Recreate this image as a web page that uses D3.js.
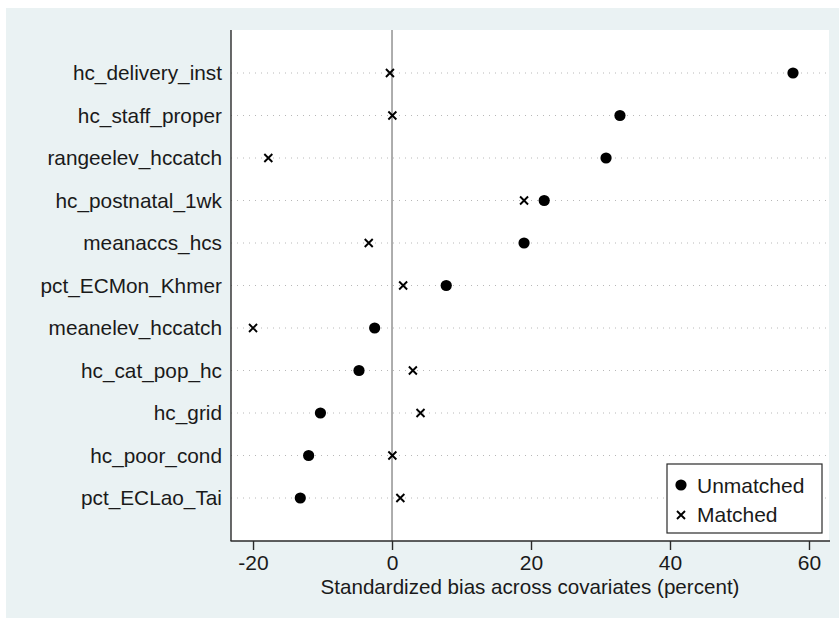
<!DOCTYPE html>
<html>
<head>
<meta charset="utf-8">
<script src="https://cdn.jsdelivr.net/npm/d3@7"></script>
<style>
  html, body { margin: 0; padding: 0; background: #ffffff; }
  svg { display: block; font-family: Arial, "Liberation Sans", sans-serif; }
</style>
</head>
<body>
<svg id="chart" width="839" height="618"></svg>
<script>
// Covariates, top to bottom (sorted by bias before matching)
const covariates = [
  "hc_delivery_inst", "hc_staff_proper", "rangeelev_hccatch", "hc_postnatal_1wk",
  "meanaccs_hcs", "pct_ECMon_Khmer", "meanelev_hccatch", "hc_cat_pop_hc",
  "hc_grid", "hc_poor_cond", "pct_ECLao_Tai"
];
// Standardized bias (%) before matching
const unmatched = [57.7, 32.8, 30.8, 21.9, 19.0, 7.8, -2.5, -4.75, -10.3, -12.0, -13.2];
// Standardized bias (%) after matching
const matched = [-0.3, 0.05, -17.8, 19.0, -3.35, 1.6, -20.0, 3.0, 4.1, 0.05, 1.2];
const xTicks = [-20, 0, 20, 40, 60];
const legendLabels = ["Unmatched", "Matched"];

const svg = d3.select("#chart");
const W = 839, H = 618;
const plot = { left: 231, right: 829, top: 30, bottom: 541 };
const FONT = "Arial, 'Liberation Sans', sans-serif";

// outer graph region
svg.append("rect").attr("x", 6).attr("y", 8).attr("width", W - 6).attr("height", H - 8)
  .attr("fill", "#eaf2f3");
// plot region
svg.append("rect").attr("x", plot.left).attr("y", plot.top)
  .attr("width", plot.right - plot.left).attr("height", plot.bottom - plot.top)
  .attr("fill", "#ffffff");

const x = d3.scaleLinear().domain([-23.17, 62.88]).range([plot.left, plot.right]);
const y = d3.scalePoint().domain(covariates).range([73, 498]);

// dotted row guides
svg.append("g").selectAll("line").data(covariates).join("line")
  .attr("x1", plot.left).attr("x2", plot.right)
  .attr("y1", d => y(d)).attr("y2", d => y(d))
  .attr("stroke", "#b8b8b8").attr("stroke-width", 1)
  .attr("stroke-dasharray", "1,5");

// zero reference line
svg.append("line")
  .attr("x1", x(0)).attr("x2", x(0)).attr("y1", plot.top).attr("y2", plot.bottom)
  .attr("stroke", "#9a9a9a").attr("stroke-width", 1.6);

// x axis
const xAxis = svg.append("g").attr("transform", `translate(0,${plot.bottom})`)
  .call(d3.axisBottom(x).tickValues(xTicks).tickSize(9).tickPadding(5).tickFormat(d3.format("d")));
xAxis.select(".domain").attr("stroke", "#2a2a2a").attr("stroke-width", 1.4)
  .attr("d", `M${plot.left - 0.5},0H${plot.right + 1}`);
xAxis.selectAll(".tick line").attr("stroke", "#2a2a2a").attr("stroke-width", 1.4);
xAxis.selectAll(".tick text").attr("fill", "#1a1a1a")
  .style("font-size", "21px").style("font-family", FONT)
  .text(d => d < 0 ? "-" + Math.abs(d) : d);

// y axis
const yAxis = svg.append("g").attr("transform", `translate(${plot.left},0)`)
  .call(d3.axisLeft(y).tickSize(0).tickPadding(9));
yAxis.select(".domain").attr("stroke", "#2a2a2a").attr("stroke-width", 1.4)
  .attr("d", `M0,${plot.top}V${plot.bottom}`);
yAxis.selectAll(".tick text").attr("fill", "#1a1a1a")
  .style("font-size", "20.8px").style("font-family", FONT);

// axis title
svg.append("text").attr("x", 530).attr("y", 594).attr("text-anchor", "middle")
  .attr("fill", "#1a1a1a").style("font-size", "20.6px").style("font-family", FONT)
  .text("Standardized bias across covariates (percent)");

// markers
const crossPath = s => `M${-s},${-s}L${s},${s}M${-s},${s}L${s},${-s}`;
svg.append("g").selectAll("circle").data(covariates).join("circle")
  .attr("cx", (d, i) => x(unmatched[i])).attr("cy", d => y(d))
  .attr("r", 5.6).attr("fill", "#000");
svg.append("g").selectAll("path").data(covariates).join("path")
  .attr("transform", (d, i) => `translate(${x(matched[i])},${y(d)})`)
  .attr("d", crossPath(4)).attr("stroke", "#000").attr("stroke-width", 1.9).attr("fill", "none");

// legend
const lg = svg.append("g");
lg.append("rect").attr("x", 667).attr("y", 464).attr("width", 155).attr("height", 69)
  .attr("fill", "#ffffff").attr("stroke", "#2a2a2a").attr("stroke-width", 1.2);
lg.append("circle").attr("cx", 681).attr("cy", 485).attr("r", 5.6).attr("fill", "#000");
lg.append("path").attr("transform", "translate(681,515)").attr("d", crossPath(4))
  .attr("stroke", "#000").attr("stroke-width", 1.9).attr("fill", "none");
lg.selectAll("text").data(legendLabels).join("text")
  .attr("x", 697).attr("y", (d, i) => 493 + i * 29)
  .attr("fill", "#1a1a1a").style("font-size", "21px").style("font-family", FONT).text(d => d);
</script>
</body>
</html>
